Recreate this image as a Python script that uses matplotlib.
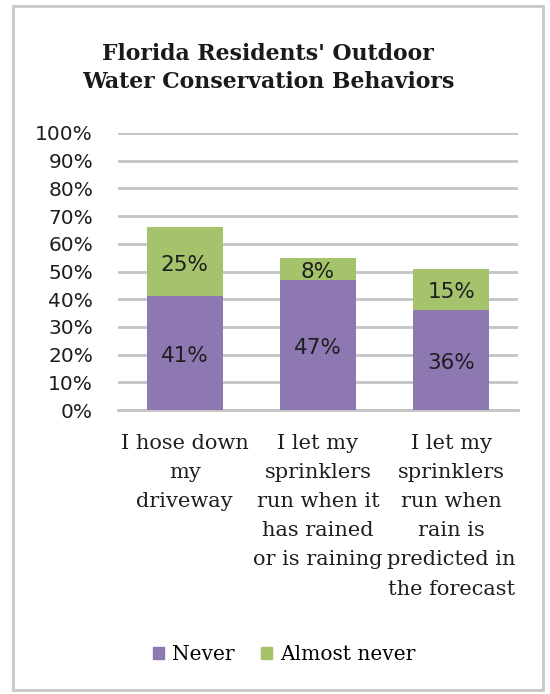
import numpy as np
import matplotlib.pyplot as plt
from matplotlib.patches import Rectangle, Patch

# data
categories = ["I hose down\nmy\ndriveway",
              "I let my\nsprinklers\nrun when it\nhas rained\nor is raining",
              "I let my\nsprinklers\nrun when\nrain is\npredicted in\nthe forecast"]
never = [41, 47, 36]
almost_never = [25, 8, 15]
yticks = np.arange(0, 101, 10)

purple = '#8E78B2'
green = '#A5C36A'
grid_col = '#C4C4C4'
txt = '#1e1e1e'

fig = plt.figure(figsize=(5.5, 6.94), dpi=100)
# outer frame
fig.patches.append(Rectangle((13/550, 1 - 690/694), 530/550, 684/694, transform=fig.transFigure,
                             fill=False, edgecolor='#C8C8C8', linewidth=2))

ax = fig.add_axes([118/550, 284/694, 400/550, 277/694])
x = np.arange(len(categories))
ax.bar(x, never, width=0.57, color=purple, zorder=3)
ax.bar(x, almost_never, bottom=never, width=0.57, color=green, zorder=3)

for i in range(len(x)):
    ax.text(x[i], never[i] / 2 - 1, f"{never[i]}%", ha='center', va='center',
            fontsize=15.5, family='DejaVu Sans', color=txt, zorder=4)
    ax.text(x[i], never[i] + almost_never[i] / 2 - 1, f"{almost_never[i]}%", ha='center', va='center',
            fontsize=15.5, family='DejaVu Sans', color=txt, zorder=4)

ax.set_xlim(-0.5, 2.5)
ax.set_ylim(0, 100)
ax.set_yticks(yticks)
ax.set_yticklabels([f"{v}%" for v in yticks], family='DejaVu Sans', fontsize=14.5, color=txt)
ax.yaxis.grid(True, color=grid_col, linewidth=2)
ax.set_axisbelow(True)
ax.tick_params(axis='y', length=0, pad=18)
ax.tick_params(axis='x', length=0, pad=17)
ax.set_xticks(x)
ax.set_xticklabels(categories, family='DejaVu Serif', fontsize=15, color=txt,
                   linespacing=1.68, va='top')
for s in ['top', 'right', 'left']:
    ax.spines[s].set_visible(False)
ax.spines['bottom'].set_color(grid_col)
ax.spines['bottom'].set_linewidth(2)

fig.text(268/550, 1 - 68/694, "Florida Residents' Outdoor\nWater Conservation Behaviors",
         ha='center', va='center', fontsize=15.8, fontweight='bold',
         family='DejaVu Serif', linespacing=1.35, color='#1a1a1a')

handles = [Patch(color=purple, label='Never'), Patch(color=green, label='Almost never')]
fig.legend(handles=handles, loc='center', bbox_to_anchor=(284/550, 1 - 655/694), ncol=2,
           frameon=False, prop={'family': 'DejaVu Serif', 'size': 14.5},
           handlelength=0.55, handleheight=0.55, handletextpad=0.4, columnspacing=1.3)

fig.savefig('out.png', dpi=100)
